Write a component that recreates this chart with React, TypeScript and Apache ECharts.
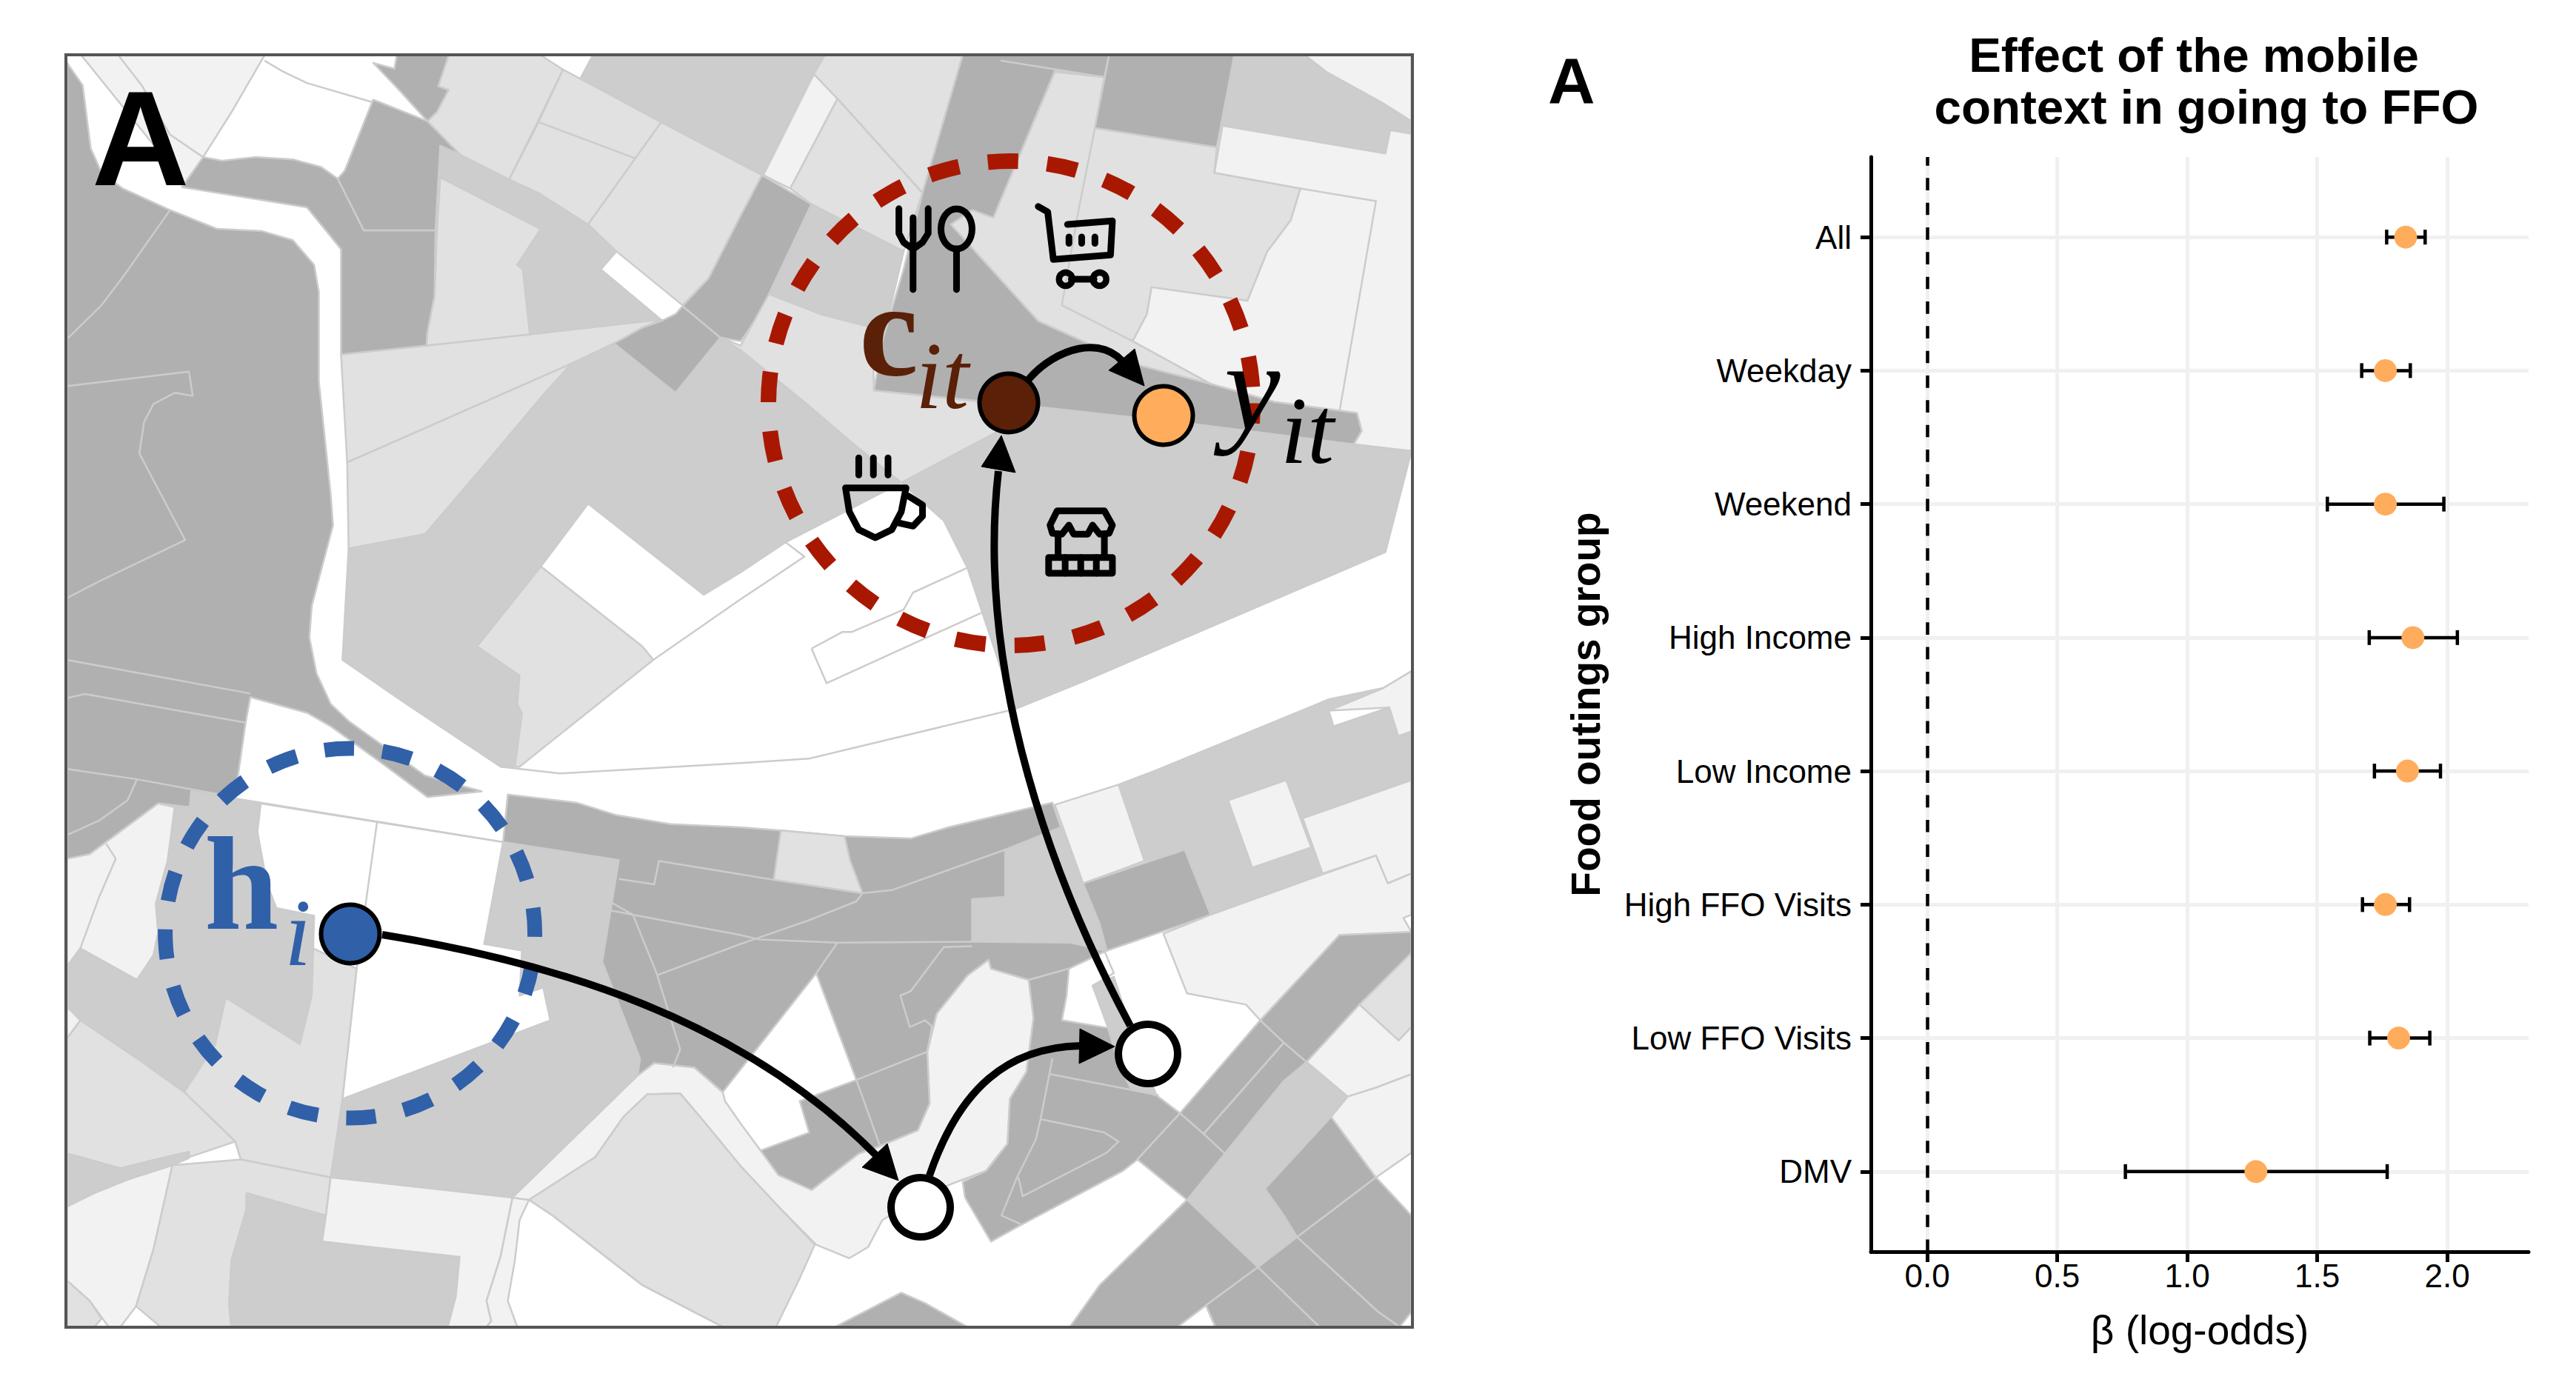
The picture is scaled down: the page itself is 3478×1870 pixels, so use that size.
import React, { useEffect, useRef } from "react";
import * as echarts from "echarts";

// ---------- forest plot data ----------
const categories = ["All", "Weekday", "Weekend", "High Income", "Low Income", "High FFO Visits", "Low FFO Visits", "DMV"];
const betas = [1.84, 1.762, 1.762, 1.868, 1.847, 1.762, 1.813, 1.264];
const lows = [1.767, 1.671, 1.539, 1.70, 1.72, 1.674, 1.702, 0.762];
const highs = [1.915, 1.858, 1.987, 2.039, 1.974, 1.855, 1.933, 1.769];
const xTicks = [0, 0.5, 1, 1.5, 2];
const rowIndex = categories.map((_, i) => i);

// ---------- map illustration (traced, four reference quadrants) ----------
const D = "#b0b0b0", M = "#cdcdcd", L = "#e1e1e1", F = "#f2f2f2", W = "#ffffff";
type Pts = number[][];
const mapFills: [string, string, Pts][] = [
  [F, "a", [[172,123],[560,123],[490,250],[430,350],[395,413],[300,290]]],
  [D, "a", [[142,140],[175,190],[192,330],[215,385],[260,420],[360,468],[460,510],[555,515],[620,535],[665,590],[675,650],[675,850],[700,1100],[705,1170],[660,1350],[655,1420],[670,1500],[700,1568],[740,1608],[820,1668],[900,1728],[1020,1763],[905,1776],[825,1713],[700,1618],[650,1588],[530,1553],[520,1610],[497,1778],[405,1763],[402,1798],[335,1790],[190,1903],[142,1915]]],
  [D, "a", [[430,350],[470,358],[540,350],[620,355],[680,372],[715,398],[770,513],[922,513],[920,660],[905,740],[903,770],[722,790],[722,555],[650,462],[385,417]]],
  [D, "a", [[790,222],[905,270],[975,345],[932,325],[922,513],[770,513],[715,398],[730,380]]],
  [D, "a", [[840,123],[950,123],[928,192],[950,200],[925,250],[905,270],[840,195],[790,140],[835,153]]],
  [L, "a", [[932,395],[1145,510],[1095,590],[1107,600],[1122,745],[903,770],[905,740],[920,660],[925,515]]],
  [M, "a", [[932,325],[975,345],[1080,400],[1140,430],[1245,500],[1305,560],[1272,600],[1395,708],[1400,715],[1122,745],[1107,600],[1095,590],[1145,510],[932,395]]],
  [L, "a", [[722,790],[903,770],[1122,745],[1400,712],[1360,730],[1300,765],[1210,810],[930,940],[735,1030]]],
  [L, "a", [[735,1030],[930,940],[1210,810],[1150,880],[1030,1030],[900,1190],[800,1210],[738,1222]]],
  [M, "a", [[1210,810],[1300,765],[1430,875],[1525,752],[1568,780],[1708,900],[1808,990],[1908,1075],[1663,1208],[1568,1275],[1490,1325],[1245,1122],[1145,1262],[1010,1440],[1100,1505],[1095,1568],[1105,1590],[1090,1708],[1060,1708],[860,1568],[725,1470],[738,1222],[800,1210],[900,1190],[1030,1030],[1150,880]]],
  [D, "a", [[1300,765],[1360,730],[1400,715],[1430,700],[1445,682],[1525,752],[1430,875]]],
  [D, "a", [[1445,682],[1500,620],[1568,480],[1613,390],[1718,455],[1628,655],[1608,700],[1568,760],[1525,752]]],
  [L, "a", [[950,123],[1145,123],[1192,155],[1138,272],[1078,400],[975,345],[905,270],[925,250],[950,200],[928,192]]],
  [L, "a", [[1192,155],[1400,272],[1345,353],[1140,272]]],
  [L, "a", [[1140,272],[1345,353],[1245,500],[1140,430],[1078,400]]],
  [L, "a", [[1400,272],[1613,390],[1568,480],[1500,620],[1445,680],[1305,560],[1245,500]]],
  [M, "a", [[1230,172],[1255,123],[1746,123],[1723,165],[1616,390],[1400,272]]],
  [F, "b", [[155,165],[205,220],[105,420],[48,390]]],
  [L, "b", [[178,123],[470,123],[385,430],[205,220],[155,165]]],
  [L, "b", [[105,420],[205,220],[385,430],[345,560],[150,455]]],
  [M, "b", [[150,455],[345,560],[300,760],[280,730],[170,700],[60,655]]],
  [D, "b", [[470,123],[780,123],[770,172],[665,158],[535,485],[490,468],[445,500],[630,715],[830,810],[995,855],[1130,895],[1305,920],[1315,960],[1298,990],[960,945],[640,908],[282,870],[300,760],[345,600],[385,430]]],
  [L, "b", [[665,160],[770,172],[750,285],[1008,328],[1003,385],[1185,420],[1165,490],[1115,560],[1073,670],[870,640],[860,700],[830,760],[995,855],[830,810],[630,715],[445,500],[490,468],[535,485]]],
  [D, "b", [[780,123],[1045,123],[1008,328],[750,285]]],
  [M, "b", [[1045,123],[1195,123],[1240,160],[1360,230],[1420,270],[1420,298],[1375,290],[1365,342],[1020,280]]],
  [F, "b", [[1195,123],[1420,123],[1420,270],[1360,230],[1240,160]]],
  [F, "b", [[1020,280],[1365,342],[1375,290],[1420,298],[1420,1005],[1298,990],[1315,960],[1305,920],[1130,895],[995,855],[830,760],[860,700],[870,640],[1073,670],[1115,560],[1165,490],[1185,420],[1003,385]]],
  [M, "b", [[340,1075],[640,908],[960,945],[1298,990],[1420,1005],[1365,1230],[725,1518],[580,1580],[560,1518],[480,1265],[430,1160]]],
  [L, "b", [[-43,752],[0,770],[60,655],[170,700],[280,730],[282,870],[510,895],[640,908],[340,1075],[240,990],[140,900],[0,780]]],
  [L, "a", [[1010,1440],[1145,1262],[1360,1440],[1383,1470],[1100,1708],[1090,1708],[1105,1590],[1095,1568],[1100,1505]]],
  // lower left
  [F, "c", [[142,395],[190,385],[335,272],[370,280],[355,400],[330,495],[335,560],[325,610],[290,665],[170,595],[142,635]]],
  [M, "c", [[405,245],[1065,358],[1310,398],[1275,625],[1355,840],[1350,878],[1085,1150],[905,1135],[700,1105],[510,1065],[498,1025],[390,915],[290,840],[170,755],[142,725],[142,635],[170,595],[290,665],[325,610],[335,560],[330,495],[355,400],[370,280],[402,280]]],
  [W, "c", [[552,272],[1065,358],[1025,585],[1105,600],[1100,700],[1150,682],[1165,755],[725,930],[755,640],[663,595],[665,522],[585,505],[565,450],[545,335]]],
  [L, "c", [[478,705],[635,808],[660,700],[663,595],[755,640],[725,930],[700,1105],[510,1065],[498,1025],[390,915],[455,810]]],
  [L, "c", [[170,755],[290,840],[390,915],[498,1025],[400,1060],[400,1048],[330,1065],[255,1085],[142,1052],[142,795]]],
  [F, "c", [[142,725],[170,755],[142,795]]],
  [M, "c", [[142,1052],[255,1085],[330,1065],[400,1048],[400,1062],[365,1078],[270,1110],[200,1140],[142,1170]]],
  [F, "c", [[142,1170],[200,1140],[270,1110],[365,1078],[325,1265],[288,1392],[255,1438],[230,1438],[190,1380],[142,1335]]],
  [L, "c", [[365,1078],[510,1065],[700,1105],[690,1190],[522,1140],[522,1175],[490,1290],[485,1390],[490,1438],[340,1438],[288,1392],[325,1265]]],
  [M, "c", [[522,1140],[690,1190],[682,1248],[973,1282],[965,1370],[948,1438],[490,1438],[485,1390],[490,1290],[522,1175]]],
  [F, "c", [[700,1105],[1085,1150],[1060,1280],[1030,1380],[1040,1425],[1030,1438],[948,1438],[965,1370],[973,1282],[682,1248],[690,1190]]],
  [L, "c", [[142,1335],[190,1380],[215,1420],[200,1438],[142,1438]]],
  [F, "c", [[1085,1150],[1120,1155],[1100,1200],[1090,1290],[1075,1380],[1095,1438],[1030,1438],[1040,1425],[1030,1380],[1060,1280]]],
  // ribbon and lower centre
  [F, "d", [[-483,1150],[-218,878],[-183,850],[-98,860],[-38,915],[-33,935],[0,985],[42,1045],[150,1133],[250,1052],[295,1035],[375,1000],[400,940],[395,825],[415,740],[480,655],[525,620],[530,640],[610,665],[620,750],[605,870],[570,930],[565,1030],[520,1090],[445,1120],[380,1150],[300,1200],[270,1260],[230,1285],[160,1255],[80,1170],[0,1080],[-78,980],[-128,918],[-198,920],[-248,970],[-308,1060],[-448,1155]]],
  [L, "d", [[-448,1155],[-308,1060],[-248,970],[-198,920],[-128,918],[-78,980],[0,1080],[80,1170],[157,1255],[125,1330],[75,1438],[-38,1438],[-208,1345],[-398,1190]]],
  [D, "d", [[-493,252],[-348,270],[-263,298],[-148,318],[0,325],[85,332],[220,345],[360,350],[440,325],[560,295],[660,270],[678,325],[725,450],[760,540],[775,600],[695,640],[610,665],[530,640],[525,620],[480,655],[415,740],[395,825],[400,940],[375,1000],[295,1035],[250,1052],[150,1133],[80,1100],[42,1045],[145,1005],[125,935],[245,888],[160,650],[-38,915],[-98,860],[-183,850],[-218,878],[-213,840],[-293,625],[-258,398],[-503,358]]],
  [M, "d", [[560,375],[678,325],[725,450],[760,540],[770,600],[700,582],[490,580],[490,485],[560,480]]],
  [L, "d", [[85,332],[220,345],[232,400],[258,472],[70,442]]],
  [D, "d", [[610,665],[695,640],[690,700],[680,755],[778,772],[800,850],[825,905],[880,922],[930,962],[840,1065],[810,1090],[595,1210],[530,1248],[475,1150],[470,1115],[520,1090],[565,1030],[570,930],[605,870],[620,750]]],
  [M, "d", [[745,678],[790,658],[825,770],[880,922],[825,905],[800,850],[778,772]]],
  [F, "d", [[1360,15],[1420,-23],[1420,112],[1392,122],[1373,58],[1245,65]]],
  [M, "d", [[800,230],[880,198],[1245,40],[1360,15],[1245,65],[1255,100],[1373,58],[1392,122],[1420,112],[1420,220],[1190,305],[1232,428],[995,520],[940,375],[855,400]]],
  [F, "d", [[1032,265],[1155,220],[1208,370],[1083,415]]],
  [F, "d", [[665,275],[800,230],[855,400],[725,450]]],
  [D, "d", [[725,450],[940,375],[995,520],[775,600],[760,540]]],
  [F, "d", [[1190,305],[1420,220],[1420,428],[1370,450],[1345,388],[1232,428]]],
  [F, "d", [[895,562],[995,520],[1232,430],[1345,388],[1370,450],[1420,428],[1420,520],[1403,527],[1420,558],[1268,565],[1100,755],[1070,720],[945,695]]],
  [D, "d", [[1268,565],[1420,558],[1420,605],[1310,720],[1198,848],[1150,805],[1100,755]]],
  [L, "d", [[1310,720],[1420,605],[1420,770],[1393,800]]],
  [F, "d", [[1310,720],[1393,800],[1420,770],[1420,875],[1345,905],[1300,920],[1285,925],[1198,848]]],
  [M, "d", [[1198,848],[1285,925],[1250,970],[1110,1130],[1150,1190],[1178,1238],[1095,1305],[945,1155],[1025,1055],[1080,980],[1150,890]]],
  [D, "d", [[1100,755],[1150,805],[980,1008],[930,962]]],
  [D, "d", [[1150,805],[1198,848],[1150,890],[1080,980],[1025,1052],[980,1008]]],
  [D, "d", [[930,962],[980,1008],[1025,1052],[945,1155],[840,1065]]],
  [D, "d", [[1250,970],[1345,1105],[1178,1238],[1150,1190],[1110,1130]]],
  [F, "d", [[1285,925],[1300,920],[1345,905],[1420,875],[1420,1050],[1345,1105],[1250,970]]],
  [D, "d", [[1345,1105],[1420,1190],[1420,1405],[1395,1438],[1350,1405],[1178,1238]]],
  [D, "d", [[1178,1238],[1350,1405],[1395,1438],[1225,1438],[1095,1305]]],
  [D, "d", [[945,1155],[1095,1305],[985,1390],[925,1438],[697,1438],[760,1345]]],
  [D, "d", [[985,1390],[1095,1305],[1225,1438],[1005,1438]]],
  [D, "d", [[200,1438],[340,1362],[390,1385],[480,1438]]],
];
const mapLines: [string, Pts][] = [
  ["a", [[560,135],[600,160],[650,185],[790,228]]],
  ["a", [[252,125],[300,190],[360,300],[430,350]]],
  ["a", [[360,468],[265,610],[215,680],[142,755]]],
  ["a", [[142,860],[400,828],[408,882],[370,875],[325,900],[305,940],[295,1010],[330,1080],[392,1203],[210,1295],[142,1332]]],
  ["a", [[142,1470],[530,1545]]],
  ["a", [[1383,1470],[1568,1335],[1703,1240],[1663,1208]]],
  ["b", [[550,135],[770,172]]],
  ["b", [[750,285],[715,470],[680,680],[830,760]]],
  ["b", [[1185,420],[1345,448],[1268,915]]],
  ["b", [[150,1445],[215,1408],[235,1408],[345,1358],[365,1320],[480,1265]]],
  ["b", [[510,1365],[182,1522],[150,1445]]],
  ["c", [[142,37],[180,28],[520,92]]],
  ["c", [[142,195],[290,218],[497,258]]],
  ["c", [[290,218],[270,265],[210,310],[142,342]]],
  ["c", [[798,315],[755,640]]],
  ["c", [[225,362],[245,395],[210,480],[170,595]]],
  ["c", [[1060,190],[1185,205],[1568,182],[1713,172],[2148,62]]],
  ["c", [[1120,1155],[1170,1190],[1360,1345],[1530,1438]]],
  ["d", [[-278,490],[-228,520],[-178,650],[-128,820],[-143,860]]],
  ["d", [[-258,440],[-183,452],[-173,400],[0,430],[70,442],[258,472],[320,465],[560,375]]],
  ["d", [[258,472],[245,490],[150,530],[0,585],[-178,655]]],
  ["d", [[-278,510],[0,565],[40,575],[205,582],[490,580]]],
  ["d", [[205,582],[160,650]]],
  ["d", [[490,590],[430,592],[360,690],[338,700],[358,770],[390,755],[405,768],[395,825]]],
  ["d", [[245,888],[395,825]]],
  ["d", [[245,888],[295,1035]]],
  ["d", [[655,875],[885,922]]],
  ["d", [[660,840],[635,975],[625,1020],[585,1105],[552,1190],[595,1210]]],
  ["d", [[635,975],[770,1005],[800,1025],[775,1050],[597,1147],[588,1105]]],
  ["d", [[1150,805],[980,1008]]],
  ["d", [[985,1390],[1005,1438]]],
  ["d", [[770,600],[790,650],[745,678]]],
];

// ---------- helpers for the illustration ----------
const origin: Record<string, number[]> = { a: [0, 0], b: [1000, 0], c: [0, 920], d: [1000, 920] };
const toPx = (q: string, p: number[]) => [origin[q][0] + p[0] / 1.568, origin[q][1] + p[1] / 1.65];
const blackStroke = { fill: "none", stroke: "#000", lineWidth: 9, lineCap: "round", lineJoin: "round" };

function polyIcon(q: string, pts: Pts, lw = 9) {
  return { type: "polyline", silent: true, shape: { points: pts.map((p) => toPx(q, p)) }, style: { ...blackStroke, lineWidth: lw } };
}
function circIcon(q: string, c: number[], r: number, lw = 8.5) {
  const [x, y] = toPx(q, c);
  return { type: "circle", silent: true, shape: { cx: x, cy: y, r }, style: { ...blackStroke, lineWidth: lw } };
}
function node(x: number, y: number, r: number, fill: string, lw: number) {
  return { type: "circle", silent: true, shape: { cx: x, cy: y, r }, style: { fill, stroke: "#000", lineWidth: lw } };
}
function curve(p0: number[], c1: number[], c2: number[], p1: number[]) {
  return {
    type: "bezierCurve", silent: true,
    shape: { x1: p0[0], y1: p0[1], cpx1: c1[0], cpy1: c1[1], cpx2: c2[0], cpy2: c2[1], x2: p1[0], y2: p1[1] },
    style: { fill: "none", stroke: "#000", lineWidth: 10 },
  };
}
function head(a: number[], b: number[], c: number[]) {
  return { type: "polygon", silent: true, shape: { points: [a, b, c] }, style: { fill: "#000", stroke: "#000", lineWidth: 1 } };
}
function label(text: string, x: number, baseline: number, size: number, family: string, fill: string, weight = "normal", italic = false, central = 0.3375) {
  return {
    type: "text", silent: true, x, y: baseline - central * size,
    style: {
      text, fill, fontFamily: family, fontSize: size, fontWeight: weight, fontStyle: italic ? "italic" : "normal",
      textAlign: "left", textVerticalAlign: "middle", align: "left", verticalAlign: "middle",
    },
  };
}

const SERIF = "Liberation Serif";
const SANS = "Liberation Sans";
const BROWN = "#5a2008", BLUE = "#3060a8", RED = "#a81800", ORANGE = "#ffad5c";

const illustration: any[] = [
  { type: "rect", silent: true, shape: { x: 89, y: 74, width: 1818, height: 1718 }, style: { fill: "#fff" } },
  ...mapFills.map(([fill, q, pts]) => ({
    type: "polygon", silent: true, shape: { points: pts.map((p) => toPx(q, p)) },
    style: { fill, stroke: "#cccccc", lineWidth: 2.5, lineJoin: "round" },
  })),
  ...mapLines.map(([q, pts]) => ({
    type: "polyline", silent: true, shape: { points: pts.map((p) => toPx(q, p)) },
    style: { fill: "none", stroke: "#cccccc", lineWidth: 2.5, lineJoin: "round" },
  })),
  { type: "rect", silent: true, shape: { x: 89, y: 74, width: 1818, height: 1718 }, style: { fill: "none", stroke: "#555", lineWidth: 4 } },
  label("A", 124, 250, 182, SANS, "#000", "bold", false, 0.3465),

  // dashed activity spaces
  { type: "circle", silent: true, shape: { cx: 1364.5, cy: 544.5, r: 327 }, style: { fill: "none", stroke: RED, lineWidth: 21, lineDash: [41, 39.2], lineDashOffset: 13.9 } },
  { type: "circle", silent: true, shape: { cx: 472.6, cy: 1260, r: 249.5 }, style: { fill: "none", stroke: BLUE, lineWidth: 20, lineDash: [40, 38.38], lineDashOffset: 35.3 } },

  // trajectory
  curve([516, 1262], [750, 1300], [1000, 1375], [1182, 1559]),
  head([1213, 1594], [1164, 1576], [1198, 1544]),
  curve([1255, 1587], [1295, 1470], [1360, 1414], [1459, 1412]),
  head([1505, 1413], [1458, 1389], [1457, 1436]),
  curve([1526, 1385], [1400, 1150], [1320, 880], [1348, 636]),
  head([1352, 588], [1325, 630], [1371, 638]),
  curve([1389, 512], [1425, 470], [1490, 450], [1520, 494]),
  head([1545, 521], [1497, 500], [1532, 471]),

  node(473, 1261, 39.5, BLUE, 6),
  node(1362, 544, 39.5, BROWN, 6),
  node(1571, 561, 39.5, ORANGE, 6),
  node(1243, 1630, 40, "#fff", 10),
  node(1550, 1423, 40, "#fff", 10),

  // mathematical labels
  label("c", 1160, 506, 180, SERIF, BROWN, "bold"),
  label("it", 1236, 551, 130, SERIF, BROWN, "normal", true),
  label("y", 1653, 579, 170, SERIF, "#000", "normal", true),
  label("it", 1729, 625, 130, SERIF, "#000", "normal", true),
  label("h", 276, 1254, 180, SERIF, BLUE, "bold"),
  label("i", 384, 1303, 130, SERIF, BLUE, "normal", true),

  // fork
  polyIcon("b", [[335,465],[335,520],[345,540],[365,555],[385,540],[397,520],[397,465]]),
  polyIcon("b", [[365,485],[365,645]]),
  // spoon
  { type: "ellipse", silent: true, shape: { cx: 1000 + 457 / 1.568, cy: 510 / 1.65, rx: 21, ry: 27 }, style: { ...blackStroke, lineWidth: 9 } },
  polyIcon("b", [[457,555],[457,645]]),
  // cart
  polyIcon("b", [[630,460],[650,472],[662,578],[783,568],[787,492],[692,500]]),
  polyIcon("b", [[695,528],[695,542]]), polyIcon("b", [[722,528],[722,542]]), polyIcon("b", [[750,528],[750,542]]),
  circIcon("b", [688,622], 9), circIcon("b", [760,622], 9), polyIcon("b", [[700,622],[748,622]]),
  // cup
  polyIcon("b", [[250,1020],[250,1058]]), polyIcon("b", [[281,1020],[281,1058]]), polyIcon("b", [[312,1020],[312,1058]]),
  polyIcon("b", [[222,1087],[350,1087],[340,1140],[320,1180],[285,1198],[250,1180],[230,1140],[222,1087]]),
  polyIcon("b", [[355,1105],[385,1125],[385,1150],[365,1172],[335,1165]]),
  // store
  polyIcon("b", [[655,1170],[670,1138],[770,1138],[787,1170],[780,1188],[760,1190],[745,1170],[735,1190],[705,1190],[695,1170],[680,1190],[660,1188],[655,1170]]),
  polyIcon("b", [[672,1190],[672,1240]]), polyIcon("b", [[770,1190],[770,1240]]),
  polyIcon("b", [[652,1242],[787,1242],[787,1277],[652,1277],[652,1242]]),
  polyIcon("b", [[687,1242],[687,1277]]), polyIcon("b", [[720,1242],[720,1277]]), polyIcon("b", [[753,1242],[753,1277]]),

  label("A", 2090, 139, 88, SANS, "#000", "bold", false, 0.3465),
];

export default function App() {
  const ref = useRef<HTMLDivElement>(null);
  useEffect(() => {
    const chart = echarts.init(ref.current!, undefined, { renderer: "svg" });
    chart.setOption({
      animation: false,
      backgroundColor: "#fff",
      textStyle: { fontFamily: SANS },
      title: [
        { text: "Effect of the mobile", left: 2957, top: 36, textAlign: "center", textStyle: { fontFamily: SANS, fontSize: 65.5, fontWeight: "bold", color: "#000" } },
        { text: "context in going to FFO", left: 2974, top: 106, textAlign: "center", textStyle: { fontFamily: SANS, fontSize: 65.5, fontWeight: "bold", color: "#000" } },
      ],
      grid: { left: 2526, right: 64, top: 212, bottom: 180, containLabel: false },
      xAxis: {
        type: "value", min: -0.217, max: 2.313,
        name: "β (log-odds)", nameLocation: "middle", nameGap: 78,
        nameTextStyle: { fontFamily: SANS, fontSize: 55, color: "#000" },
        axisLine: { show: true, onZero: false, lineStyle: { color: "#000", width: 5 } },
        axisTick: { show: true, length: 14, customValues: xTicks, lineStyle: { color: "#000", width: 5 } },
        axisLabel: { customValues: xTicks, formatter: (v: number) => v.toFixed(1), fontFamily: SANS, fontSize: 44, color: "#000", margin: 10 },
        splitLine: { show: true, lineStyle: { color: "#f0f0f0", width: 5 } },
      },
      yAxis: {
        type: "value", min: -0.6, max: 7.6, inverse: true,
        name: "Food outings group", nameLocation: "middle", nameGap: 358,
        nameTextStyle: { fontFamily: SANS, fontSize: 55, fontWeight: "bold", color: "#000" },
        axisLine: { show: true, onZero: false, lineStyle: { color: "#000", width: 5 } },
        axisTick: { show: true, length: 14, customValues: rowIndex, lineStyle: { color: "#000", width: 5 } },
        axisLabel: { customValues: rowIndex, formatter: (v: number) => categories[v] ?? "", fontFamily: SANS, fontSize: 44, color: "#000", margin: 26 },
        splitLine: { show: true, lineStyle: { color: "#f0f0f0", width: 5 } },
      },
      series: [
        {
          type: "custom", name: "CI", z: 3,
          data: rowIndex.map((i) => [lows[i], highs[i], i]),
          encode: { x: [0, 1], y: 2 },
          renderItem: (_: any, api: any) => {
            const a = api.coord([api.value(0), api.value(2)]);
            const b = api.coord([api.value(1), api.value(2)]);
            const s = { stroke: "#000", lineWidth: 4.5, fill: "none" };
            return {
              type: "group",
              children: [
                { type: "line", shape: { x1: a[0], y1: a[1], x2: b[0], y2: b[1] }, style: s },
                { type: "line", shape: { x1: a[0], y1: a[1] - 10, x2: a[0], y2: a[1] + 10 }, style: s },
                { type: "line", shape: { x1: b[0], y1: b[1] - 10, x2: b[0], y2: b[1] + 10 }, style: s },
              ],
            };
          },
          markLine: {
            silent: true, symbol: "none", animation: false, label: { show: false },
            lineStyle: { color: "#000", width: 4.5, type: [16.67, 16.66], dashOffset: 5.2 },
            data: [{ xAxis: 0 }],
          },
        },
        {
          type: "scatter", name: "β", z: 4, symbol: "circle", symbolSize: 31,
          data: rowIndex.map((i) => [betas[i], i]),
          itemStyle: { color: ORANGE, opacity: 1 },
        },
      ],
      graphic: { elements: illustration },
    });
    return () => chart.dispose();
  }, []);
  return <div ref={ref} style={{ position: "fixed", left: 0, top: 0, width: 3478, height: 1870, background: "#fff" }} />;
}
